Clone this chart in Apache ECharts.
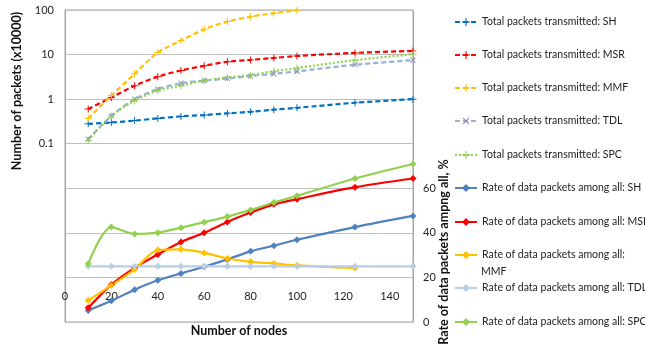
<!DOCTYPE html>
<html>
<head>
<meta charset="utf-8">
<script src="https://cdn.jsdelivr.net/npm/echarts@6/dist/echarts.min.js"></script>
<style>
  html, body { margin: 0; padding: 0; background: #fff; }
  #chart { width: 645px; height: 344px; }
</style>
</head>
<body>
<div id="chart"></div>
<script>
// Network size (number of nodes)
const nodes = [10, 20, 30, 40, 50, 60, 70, 80, 90, 100, 125, 150];

// Total packets transmitted (x10000), log scale
const totalSH  = [0.28, 0.30, 0.33, 0.37, 0.41, 0.44, 0.48, 0.52, 0.58, 0.64, 0.83, 1.0];
const totalMSR = [0.60, 1.09, 2.0, 3.2, 4.4, 5.6, 6.9, 7.6, 8.4, 9.3, 10.9, 12.1];
const totalMMF = [0.37, 1.2, 3.7, 11.1, 20.6, 37, 55, 71, 85, 98];
const totalTDL = [0.127, 0.42, 1.0, 1.68, 2.28, 2.6, 2.9, 3.3, 3.7, 4.2, 5.9, 7.5];
const totalSPC = [0.12, 0.42, 0.92, 1.56, 2.0, 2.6, 3.05, 3.45, 4.25, 5.0, 7.5, 10.2];

// Rate of data packets among all packets, %
const rateSH  = [5.2, 9.5, 14.5, 18.7, 21.8, 24.8, 28.1, 31.7, 34.2, 36.9, 42.6, 47.6];
const rateMSR = [6.4, 16.8, 24.3, 30.3, 35.9, 40.0, 44.9, 49.1, 52.8, 55.1, 60.5, 64.4];
const rateMMF = [9.7, 16.4, 23.6, 32.3, 32.6, 31.0, 28.5, 27.0, 26.3, 25.4, 24.2];
const rateTDL = [25, 25, 25, 25, 25, 25, 25, 25, 25, 25, 25, 25];
const rateSPC = [26.1, 42.6, 39.5, 40.1, 42.3, 44.8, 47.3, 50.3, 53.6, 56.6, 64.4, 70.9];

// Tick labels shown on each vertical axis
const leftTicks = [0.1, 1, 10, 100];
const rightTicks = [0, 20, 40, 60];

const FONT = 'Lato, "Liberation Sans", sans-serif';
const PLUS = 'path://M4.3,0H5.7V10H4.3Z M0,4.3H10V5.7H0Z';

function pairs(values) {
  return values.map((v, i) => [nodes[i], v]);
}

function totalSeries(name, values, color, dash, symbol, rotate, symColor) {
  return {
    name: name, type: 'line', yAxisIndex: 0, smooth: 0.3,
    data: pairs(values),
    symbol: symbol, symbolSize: 7, symbolRotate: rotate || 0,
    itemStyle: { color: symColor || color },
    lineStyle: { color: color, width: 2.2, type: dash },
    emphasis: { disabled: true }
  };
}

function rateSeries(name, values, color) {
  return {
    name: name, type: 'line', yAxisIndex: 1, smooth: 0.3,
    data: pairs(values),
    symbol: 'diamond', symbolSize: 7,
    itemStyle: { color: color },
    lineStyle: { color: color, width: 2.2 },
    emphasis: { disabled: true }
  };
}

const series = [
  totalSeries('Total packets transmitted: SH', totalSH, '#0070C0', [5, 3], PLUS),
  totalSeries('Total packets transmitted: MSR', totalMSR, '#FF0000', [5, 3], PLUS),
  totalSeries('Total packets transmitted: MMF', totalMMF, '#FFC000', [5, 3], PLUS),
  totalSeries('Total packets transmitted: TDL', totalTDL, '#95B3D7', [5, 3], PLUS, 45, '#8A8AC0'),
  totalSeries('Total packets transmitted: SPC', totalSPC, '#92D050', [2, 2], PLUS),
  rateSeries('Rate of data packets among all: SH', rateSH, '#4F81BD'),
  rateSeries('Rate of data packets among all: MSR', rateMSR, '#FF0000'),
  rateSeries('Rate of data packets among all: MMF', rateMMF, '#FFC000'),
  rateSeries('Rate of data packets among all: TDL', rateTDL, '#B9CDE5'),
  rateSeries('Rate of data packets among all: SPC', rateSPC, '#92D050')
];

// One legend entry per slot down the right-hand side
const legendRows = [22, 55, 88, 121, 155, 188, 222, 255, 288, 322];
const legends = series.map((s, i) => ({
  data: [s.name],
  left: 454, top: legendRows[i] - 7,
  padding: 0, itemWidth: 22, itemHeight: 10, itemGap: 3,
  selectedMode: false,
  formatter: n => n === 'Rate of data packets among all: MMF' ? 'Rate of data packets among all:' : n,
  textStyle: { fontFamily: FONT, fontSize: 10.5, color: '#222', lineHeight: 14, padding: [0, 0, 0, 0] }
}));

const chart = echarts.init(document.getElementById('chart'), null, { renderer: 'canvas' });
chart.setOption({
  animation: false,
  backgroundColor: '#fff',
  grid: { left: 65, right: 232, top: 10, bottom: 22, show: true, borderColor: '#A6A6A6', borderWidth: 1 },
  legend: legends,
  xAxis: {
    type: 'value', min: 0, max: 150, interval: 20,
    position: 'bottom', offset: -44,
    axisLine: { show: false }, axisTick: { show: false }, splitLine: { show: false },
    axisLabel: {
      margin: 13, fontFamily: FONT, fontSize: 11, color: '#222',
      formatter: v => v <= 140 ? String(v) : ''
    }
  },
  yAxis: [
    {
      type: 'log', logBase: 10, min: 0.00001, max: 100,
      axisLine: { show: true, lineStyle: { color: '#A6A6A6' } },
      axisTick: { show: false },
      splitLine: { show: true, lineStyle: { color: '#BFBFBF', width: 1 } },
      axisLabel: {
        margin: 11, fontFamily: FONT, fontSize: 11, color: '#222',
        formatter: v => {
          const hit = leftTicks.find(t => Math.abs(Math.log10(v) - Math.log10(t)) < 1e-6);
          return hit === undefined ? '' : String(hit);
        }
      }
    },
    {
      type: 'value', min: 0, max: 140, interval: 20, position: 'right',
      axisLine: { show: true, lineStyle: { color: '#A6A6A6' } },
      axisTick: { show: false }, splitLine: { show: false },
      axisLabel: {
        margin: 10, fontFamily: FONT, fontSize: 11, color: '#222',
        formatter: v => rightTicks.indexOf(v) >= 0 ? String(v) : ''
      }
    }
  ],
  graphic: [
    { type: 'text', x: 17, y: 91, rotation: Math.PI / 2,
      style: { text: 'Number of packets (x10000)', font: 'bold 12.5px ' + FONT, fill: '#111', align: 'center', verticalAlign: 'middle' } },
    { type: 'text', x: 444, y: 252, rotation: Math.PI / 2,
      style: { text: 'Rate of data packets ampng all, %', font: 'bold 12.5px ' + FONT, fill: '#111', align: 'center', verticalAlign: 'middle' } },
    { type: 'text', x: 239, y: 331,
      style: { text: 'Number of nodes', font: 'bold 12.5px ' + FONT, fill: '#111', align: 'center', verticalAlign: 'middle' } },
    { type: 'text', x: 481, y: 272,
      style: { text: 'MMF', font: '10.5px ' + FONT, fill: '#222', align: 'left', verticalAlign: 'middle' } }
  ],
  series: series
});
</script>
</body>
</html>
